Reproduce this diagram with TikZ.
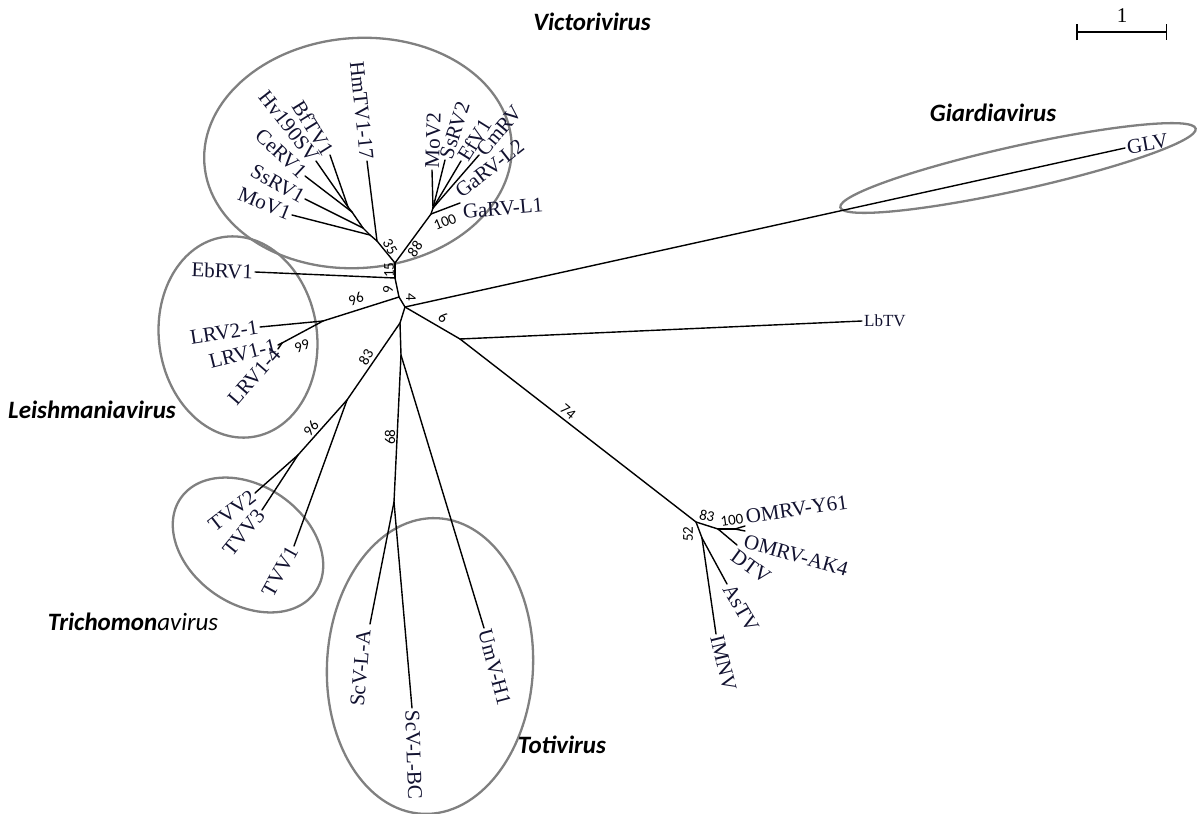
\documentclass[tikz,border=0pt]{standalone}
\usepackage{fontspec}
\setmainfont{Liberation Serif}
\newfontfamily\calfont{Carlito}
\usetikzlibrary{arrows.meta}
\definecolor{leafblue}{RGB}{18,18,48}

\tikzset{
  branch/.style={line width=1.4pt, line cap=round},
  leaf/.style={font=\fontsize{21}{23}\selectfont, text=leafblue, inner sep=2pt},
  boot/.style={font=\calfont\fontsize{15}{16}\selectfont, inner sep=0pt},
  genus/.style={font=\calfont\bfseries\itshape\fontsize{25}{27}\selectfont, inner sep=0pt},
  clade/.style={black!50, line width=2.3pt}
}

\begin{document}
\begin{tikzpicture}[x=1pt, y=-1pt]
  \useasboundingbox (0,0) rectangle (1197,814);

  % clade ellipses
  \draw[clade] (358,153) ellipse [x radius=154, y radius=115, rotate=4];
  \draw[clade] (238,337) ellipse [x radius=79, y radius=101, rotate=8];
  \draw[clade] (248,545) ellipse [x radius=82, y radius=59, rotate=-35];
  \draw[clade] (430,666) ellipse [x radius=103, y radius=148, rotate=-3];
  \draw[clade] (1018,168) ellipse [x radius=182, y radius=22, rotate=12.5];

  % inner nodes
  \coordinate (c0) at (405,307);
  \coordinate (c9) at (399,297);
  \coordinate (ceb) at (395,278);
  \coordinate (v0) at (395,263);
  \coordinate (vA) at (377,241);
  \coordinate (vB) at (370,235);
  \coordinate (vC) at (363,228);
  \coordinate (vD) at (352,212);
  \coordinate (vE) at (348,207);
  \coordinate (vR) at (431,214);
  \coordinate (vS) at (433,208);
  \coordinate (lA) at (323,321);
  \coordinate (lB) at (282,343);
  \coordinate (d1) at (400,323);
  \coordinate (d2) at (401,355);
  \coordinate (d3) at (394,502);
  \coordinate (t0) at (347,400);
  \coordinate (t1) at (298,455);
  \coordinate (r0) at (460,339);
  \coordinate (o0) at (696,522);
  \coordinate (o1) at (718,529);
  \coordinate (o2) at (735,529);
  \coordinate (q0) at (702,538);

  % leaf ends
  \coordinate (e-mov1) at (292,215);
  \coordinate (e-ssrv1) at (305,199);
  \coordinate (e-cerv1) at (305,176);
  \coordinate (e-hv190) at (316,161);
  \coordinate (e-bftv1) at (330,155);
  \coordinate (e-hmtv) at (367,161);
  \coordinate (e-mov2) at (432,170);
  \coordinate (e-ssrv2) at (445,160);
  \coordinate (e-efv1) at (461,161);
  \coordinate (e-cmrv) at (479,155);
  \coordinate (e-garv1) at (460,203);
  \coordinate (e-ebrv1) at (255,272);
  \coordinate (e-lrv21) at (260,327);
  \coordinate (e-lrv11) at (278,345);
  \coordinate (e-lrv14) at (278,349);
  \coordinate (e-tvv2) at (255,493);
  \coordinate (e-tvv3) at (262,510);
  \coordinate (e-tvv1) at (294,546);
  \coordinate (e-scva) at (370,624);
  \coordinate (e-scvbc) at (412,708);
  \coordinate (e-umv) at (484,628);
  \coordinate (e-lbtv) at (862,321);
  \coordinate (e-glv) at (1125,148);
  \coordinate (e-y61) at (745,526);
  \coordinate (e-ak4) at (745,531);
  \coordinate (e-dtv) at (737,545);
  \coordinate (e-astv) at (727,584);
  \coordinate (e-imnv) at (716,634);

  % branches
  \foreach \a/\b in {c0/c9, c9/ceb, ceb/v0, v0/vA, vA/e-hmtv, vA/vB, vB/e-mov1,
      vB/vC, vC/e-ssrv1, vC/vD, vD/e-cerv1, vD/vE, vE/e-hv190, vE/e-bftv1,
      v0/vR, vR/e-garv1, vR/vS, vS/e-mov2, vS/e-ssrv2, vS/e-efv1, vS/e-cmrv,
      ceb/e-ebrv1, c9/lA, lA/e-lrv21, lA/lB, lB/e-lrv11, lB/e-lrv14,
      c0/d1, d1/t0, t0/e-tvv1, t0/t1, t1/e-tvv2, t1/e-tvv3,
      d1/d2, d2/e-umv, d2/d3, d3/e-scva, d3/e-scvbc,
      c0/e-glv, c0/r0, r0/e-lbtv, r0/o0, o0/o1, o1/e-dtv, o1/o2,
      o2/e-y61, o2/e-ak4, o0/q0, q0/e-astv, q0/e-imnv}
    \draw[branch] (\a) -- (\b);

  % leaf labels
  \node[leaf, anchor=east, rotate=-22] (mov1) at (e-mov1) {MoV1};
  \node[leaf, anchor=east, rotate=-29] (ssrv1) at (e-ssrv1) {SsRV1};
  \node[leaf, anchor=east, rotate=-43] (cerv1) at (e-cerv1) {CeRV1};
  \node[leaf, anchor=east, rotate=-52] (hv190) at (e-hv190) {Hv190SV};
  \node[leaf, anchor=east, rotate=-58] (bftv1) at (e-bftv1) {BfTV1};
  \node[leaf, anchor=east, rotate=-84] (hmtv) at (e-hmtv) {HmTV1-17};
  \node[leaf, anchor=west, rotate=88] (mov2) at (e-mov2) {MoV2};
  \node[leaf, anchor=west, rotate=72] (ssrv2) at (e-ssrv2) {SsRV2};
  \node[leaf, anchor=west, rotate=58] (efv1) at (e-efv1) {EfV1};
  \node[leaf, anchor=west, rotate=50] (cmrv) at (e-cmrv) {CmRV};
  \node[leaf, anchor=south west, rotate=38] (garv2) at (462,202) {GaRV-L2};
  \node[leaf, anchor=north west, rotate=5] (garv1) at (e-garv1) {GaRV-L1};
  \node[leaf, anchor=east, rotate=-2] (ebrv1) at (e-ebrv1) {EbRV1};
  \node[leaf, anchor=east, rotate=9] (lrv21) at (e-lrv21) {LRV2-1};
  \node[leaf, anchor=east, rotate=14] (lrv11) at (e-lrv11) {LRV1-1};
  \node[leaf, anchor=east, rotate=49] (lrv14) at (e-lrv14) {LRV1-4};
  \node[leaf, anchor=east, rotate=38] (tvv2) at (e-tvv2) {TVV2};
  \node[leaf, anchor=east, rotate=51] (tvv3) at (e-tvv3) {TVV3};
  \node[leaf, anchor=east, rotate=61] (tvv1) at (e-tvv1) {TVV1};
  \node[leaf, anchor=east, rotate=85] (scva) at (364,628) {ScV-L-A};
  \node[leaf, anchor=west, rotate=-88] (scvbc) at (e-scvbc) {ScV-L-BC};
  \node[leaf, anchor=west, rotate=-75] (umv) at (e-umv) {UmV-H1};
  \node[leaf, anchor=west, font=\fontsize{17}{19}\selectfont] (lbtv) at (e-lbtv) {LbTV};
  \node[leaf, anchor=west, rotate=10] (glv) at (e-glv) {GLV};
  \node[leaf, anchor=south west, rotate=8] (y61) at (e-y61) {OMRV-Y61};
  \node[leaf, anchor=north west, rotate=-16] (ak4) at (e-ak4) {OMRV-AK4};
  \node[leaf, anchor=north west, rotate=-36] (dtv) at (e-dtv) {DTV};
  \node[leaf, anchor=west, rotate=-60] (astv) at (e-astv) {AsTV};
  \node[leaf, anchor=west, rotate=-76] (imnv) at (e-imnv) {IMNV};

  % bootstrap values
  \node[boot, rotate=-60] (b35) at (390,247) {35};
  \node[boot, rotate=55] (b88) at (415,249) {88};
  \node[boot, rotate=22] (b100v) at (445,222) {100};
  \node[boot, rotate=90] (b15) at (389,270) {15};
  \node[boot, rotate=90] (b9) at (388,290) {9};
  \node[boot, rotate=-90] (b4) at (411,297) {4};
  \node[boot, rotate=20] (b96l) at (356,299) {96};
  \node[boot, rotate=20] (b99) at (302,346) {99};
  \node[boot, rotate=-35] (b6) at (443,318) {6};
  \node[boot, rotate=60] (b83t) at (366,357) {83};
  \node[boot, rotate=50] (b96t) at (311,428) {96};
  \node[boot, rotate=90] (b68) at (390,437) {68};
  \node[boot, rotate=-40] (b74) at (568,412) {74};
  \node[boot, rotate=-12] (b83r) at (707,516) {83};
  \node[boot, rotate=8] (b100r) at (732,520) {100};
  \node[boot, rotate=90] (b52) at (688,534) {52};

  % genus names
  \node[genus] (victori) at (592,22) {Victorivirus};
  \node[genus] (giardia) at (993,113) {Giardiavirus};
  \node[genus] (leish) at (92,410) {Leishmaniavirus};
  \node[genus] (tricho) at (133,622) {Trichomon\mdseries avirus};
  \node[genus] (toti) at (562,745) {Totivirus};

  % scale bar
  \coordinate (sb-l) at (1076,32);
  \coordinate (sb-r) at (1167,32);
  \draw[line width=1.5pt, {Bar[width=16pt]}-{Bar[width=16pt]}] (sb-l) -- (sb-r);
  \node[leaf, text=black] (sb-lab) at (1122,16) {1};
\end{tikzpicture}
\end{document}
